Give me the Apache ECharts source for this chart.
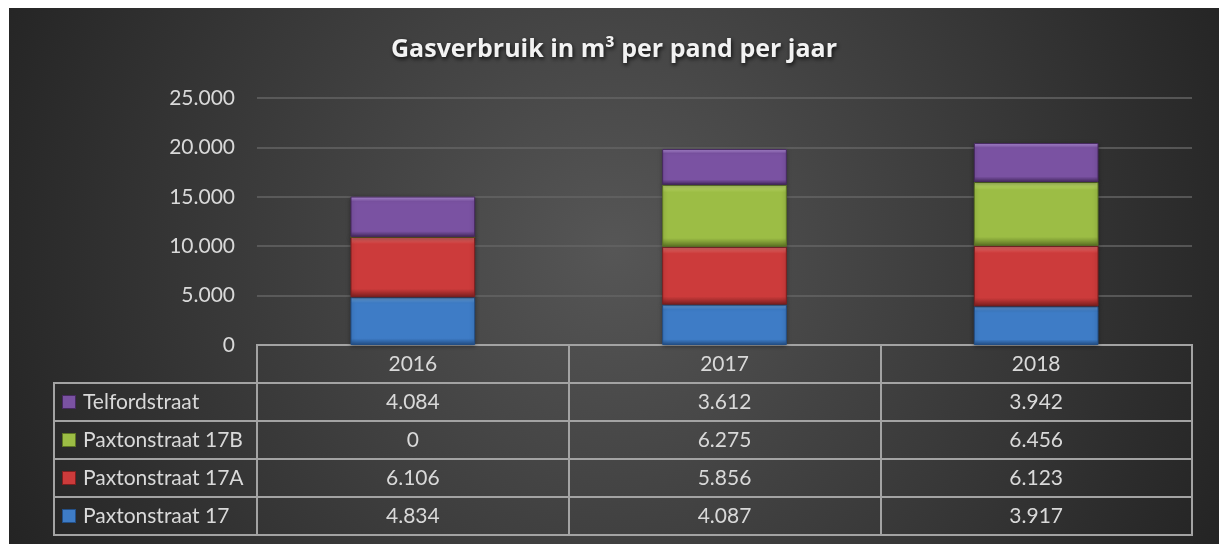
<!DOCTYPE html>
<html>
<head>
<meta charset="utf-8" />
<title>Gasverbruik</title>
<script src="https://cdn.jsdelivr.net/npm/echarts@6.0.0/dist/echarts.min.js"></script>
<style>
  body { margin: 0; padding: 0; background: #fff; }
  #main { position: absolute; left: 9px; top: 8px; width: 1210px; height: 536px; }
</style>
</head>
<body>
<div id="main"></div>
<script>
// data
var years = ['2016', '2017', '2018'];
var names = ['Paxtonstraat 17', 'Paxtonstraat 17A', 'Paxtonstraat 17B', 'Telfordstraat'];
var pax17 = [4834, 4087, 3917];
var pax17A = [6106, 5856, 6123];
var pax17B = [0, 6275, 6456];
var telford = [4084, 3612, 3942];
var yTicks = [0, 5000, 10000, 15000, 20000, 25000];

var colors = {
  'Paxtonstraat 17': ['#74b2f2', '#3e7cc6', '#234f86'],
  'Paxtonstraat 17A': ['#f47674', '#cc3b3b', '#7d1f1f'],
  'Paxtonstraat 17B': ['#cbe878', '#9cbd45', '#5d7524'],
  'Telfordstraat': ['#b593dc', '#7a52a2', '#46295f']
};
var values = {
  'Paxtonstraat 17': pax17,
  'Paxtonstraat 17A': pax17A,
  'Paxtonstraat 17B': pax17B,
  'Telfordstraat': telford
};
// table rows from top to bottom
var rows = ['Telfordstraat', 'Paxtonstraat 17B', 'Paxtonstraat 17A', 'Paxtonstraat 17'];

function fmt(n) {
  return String(n).replace(/\B(?=(\d{3})+(?!\d))/g, '.');
}

var font = 'Lato, "Open Sans", sans-serif';
var txt = '#d9d9d9';
var lineCol = '#a3a3a3';

var barSeries = names.map(function (n) {
  var c = colors[n];
  return {
    name: n,
    type: 'bar',
    stack: 'gas',
    barWidth: '40%',
    xAxisIndex: 0,
    yAxisIndex: 0,
    data: values[n],
    itemStyle: {
      color: {
        type: 'linear', x: 0, y: 0, x2: 0, y2: 1,
        colorStops: [
          { offset: 0, color: c[0] },
          { offset: 0.12, color: c[1] },
          { offset: 0.86, color: c[1] },
          { offset: 1, color: c[2] }
        ]
      },
      borderColor: c[2],
      borderWidth: 1,
      shadowColor: 'rgba(0,0,0,0.35)',
      shadowBlur: 4,
      shadowOffsetY: 1
    }
  };
});

// table cells: [col, row, value]; row 0 is the header
var cells = [];
years.forEach(function (y, i) { cells.push([i, 0, -1]); });
rows.forEach(function (r, ri) {
  values[r].forEach(function (v, i) { cells.push([i, ri + 1, v]); });
});

var rich = {};
rows.forEach(function (r, i) {
  rich['ic' + i] = { width: 12, height: 12, backgroundColor: colors[r][1], borderColor: colors[r][2], borderWidth: 1 };
});
rich.t = { color: txt, fontSize: 21, fontFamily: font, padding: [0, 0, 0, 8] };

var chart = echarts.init(document.getElementById('main'));
chart.setOption({
  backgroundColor: {
    type: 'radial', x: 0.5, y: 0.45, r: 1.25,
    colorStops: [
      { offset: 0, color: '#565656' },
      { offset: 1, color: '#242424' }
    ]
  },
  animation: false,
  title: {
    text: 'Gasverbruik in m³ per pand per jaar',
    left: 'center',
    top: 24,
    textStyle: {
      color: '#f2f2f2',
      fontFamily: '"Open Sans", Lato, sans-serif',
      fontWeight: 'bold',
      fontSize: 25,
      textShadowColor: 'rgba(0,0,0,0.8)',
      textShadowBlur: 4,
      textShadowOffsetX: 1,
      textShadowOffsetY: 2
    }
  },
  grid: [
    { left: 248, right: 27, top: 90, height: 247 },
    { left: 248, right: 27, top: 337, height: 190, show: true, borderColor: lineCol, borderWidth: 2 },
    { left: 45, width: 203, top: 375, height: 152, show: true, borderColor: lineCol, borderWidth: 2 }
  ],
  xAxis: [
    { gridIndex: 0, type: 'category', data: years, axisLine: { show: false }, axisTick: { show: false }, axisLabel: { show: false } },
    { gridIndex: 1, type: 'category', data: years, axisLine: { show: false }, axisTick: { show: false }, axisLabel: { show: false },
      splitLine: { show: true, interval: 0, lineStyle: { color: lineCol, width: 2 } } },
    { gridIndex: 2, type: 'value', show: false }
  ],
  yAxis: [
    { gridIndex: 0, type: 'value', min: 0, max: 25000, interval: 5000,
      axisLine: { show: false }, axisTick: { show: false },
      axisLabel: { color: txt, fontSize: 21, fontFamily: font, margin: 22, formatter: function (v) { return fmt(v); } },
      splitLine: { lineStyle: { color: '#646464', width: 1.5 } } },
    { gridIndex: 1, type: 'category', inverse: true, data: [''].concat(rows),
      axisLine: { show: false }, axisTick: { show: false }, axisLabel: { show: false },
      splitLine: { show: true, interval: 0, lineStyle: { color: lineCol, width: 2 } } },
    { gridIndex: 2, type: 'category', inverse: true, data: rows,
      axisLine: { show: false }, axisTick: { show: false },
      axisLabel: { inside: true, margin: 9, formatter: function (v, i) { return '{ic' + i + '|}{t|' + v + '}'; }, rich: rich },
      splitLine: { show: true, interval: 0, lineStyle: { color: lineCol, width: 2 } } }
  ],
  series: barSeries.concat([{
    type: 'custom',
    xAxisIndex: 1,
    yAxisIndex: 1,
    silent: true,
    data: cells,
    renderItem: function (params, api) {
      var col = api.value(0), row = api.value(1), v = api.value(2);
      var p = api.coord([col, row]);
      return {
        type: 'text',
        x: p[0], y: p[1],
        style: {
          text: row === 0 ? years[col] : fmt(v),
          fill: txt,
          font: '21px ' + font,
          align: 'center',
          verticalAlign: 'middle'
        }
      };
    }
  }])
});
</script>
</body>
</html>
